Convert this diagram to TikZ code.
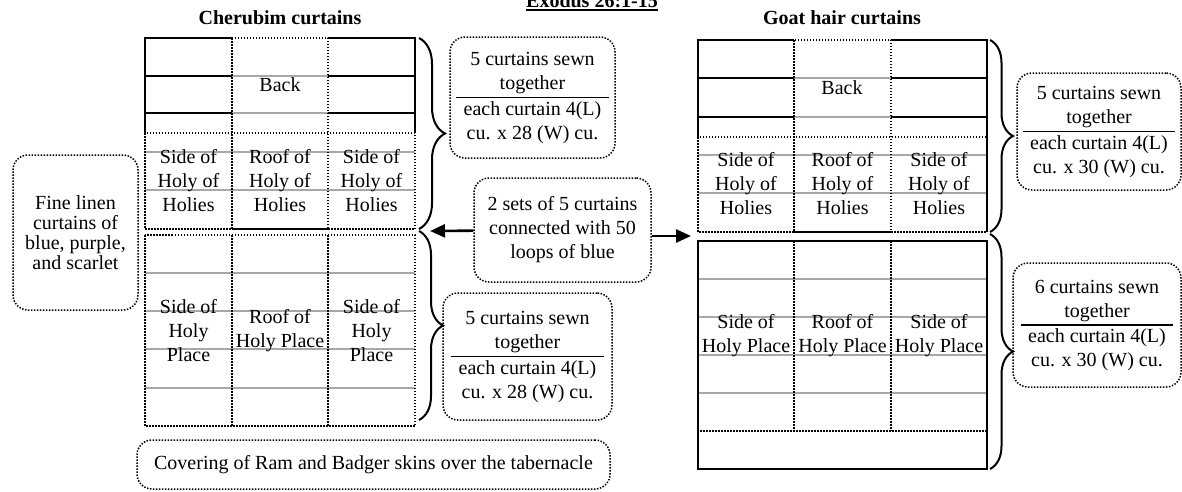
\documentclass[tikz,border=0pt]{standalone}
\usepackage{fontspec}
\setmainfont{Liberation Serif}
\usepackage{tikz}
\usetikzlibrary{arrows.meta, positioning, decorations.pathreplacing}
\definecolor{seamgray}{HTML}{A8A8A8}
\setlength{\arrayrulewidth}{1.5pt}
\setlength{\tabcolsep}{7.5pt}

\begin{document}
\begin{tikzpicture}[
        x=1pt, y=-1pt,
        every node/.style={font=\fontsize{20}{24}\selectfont, inner sep=0pt},
        note/.style={rectangle, draw=black, line width=1.5pt, dash pattern=on 1.5pt off 1.5pt, rounded corners=15pt, align=center},
        cell/.style={align=center},
        heading/.style={font=\fontsize{20}{24}\selectfont\bfseries, anchor=base},
        seam/.style={seamgray, line width=2pt},
        hem/.style={black, line width=2pt},
        dots/.style={black, line width=1.5pt, dash pattern=on 1.5pt off 1.5pt},
        curly/.style={decorate, decoration={brace, amplitude=#1}, line width=2pt},
        arrow/.style={-{Triangle[length=15pt, width=13pt]}, line width=2.6pt}
    ]
    \useasboundingbox (0,0) rectangle (1182,491);

    \node[heading] (exodus) at (592,7) {Exodus 26:1-15};
    \draw[line width=1.5pt] ([yshift=-3pt]exodus.base west) -- ([yshift=-3pt]exodus.base east);
    \node[heading] (cherubim) at (280,24) {Cherubim curtains};
    \node[heading] (goathair) at (842,24) {Goat hair curtains};

    \draw[seam] (232,76) -- (328,76) (232,113) -- (328,113)
        (145,152) -- (415,152) (145,190) -- (415,190)
        (145,273) -- (415,273) (145,311) -- (415,311) (145,349) -- (415,349) (145,388) -- (415,388);
    \draw[hem] (232,38) -- (145,38) -- (145,133) (328,38) -- (415,38) -- (415,133)
        (145,76) -- (232,76) (328,76) -- (415,76) (145,113) -- (232,113) (328,113) -- (415,113);
    \draw[dots] (232,38) rectangle (328,229) (145,133) rectangle (415,229)
        (145,235) rectangle (415,426) (232,235) -- (232,426) (328,235) -- (328,426);

    \node[cell] (cback) at (280,85) {Back};
    \node[cell] (chohl) at (188.5,181) {Side of\\Holy of\\Holies};
    \node[cell] (chohm) at (280,181) {Roof of\\Holy of\\Holies};
    \node[cell] (chohr) at (371.5,181) {Side of\\Holy of\\Holies};
    \node[cell] (chpl) at (188.5,331) {Side of\\Holy\\Place};
    \node[cell] (chpm) at (280,331) {Roof of\\Holy Place};
    \node[cell] (chpr) at (371.5,331) {Side of\\Holy\\Place};

    \draw[seam] (794,78) -- (891,78) (794,117) -- (891,117)
        (698,155) -- (987,155) (698,193) -- (987,193)
        (698,279) -- (987,279) (698,317) -- (987,317) (698,355) -- (987,355) (698,393) -- (987,393);
    \draw[hem] (794,40) -- (698,40) -- (698,137) (891,40) -- (987,40) -- (987,232)
        (698,78) -- (794,78) (891,78) -- (987,78) (698,117) -- (794,117) (891,117) -- (987,117)
        (698,241) rectangle (987,469);
    \draw[dots] (794,40) rectangle (891,232) (698,137) rectangle (987,232)
        (698,241) rectangle (987,431) (794,241) -- (794,431) (891,241) -- (891,431);

    \node[cell] (gback) at (842,88) {Back};
    \node[cell] (ghohl) at (746,184) {Side of\\Holy of\\Holies};
    \node[cell] (ghohm) at (842.5,184) {Roof of\\Holy of\\Holies};
    \node[cell] (ghohr) at (939,184) {Side of\\Holy of\\Holies};
    \node[cell] (ghpl) at (746,336) {Side of\\Holy Place};
    \node[cell] (ghpm) at (842.5,336) {Roof of\\Holy Place};
    \node[cell] (ghpr) at (939,336) {Side of\\Holy Place};

    \draw[curly=26pt] (419,38) -- (419,229);
    \draw[curly=24pt] (419,231) -- (419,420);
    \draw[curly=23pt] (990,40) -- (990,232);
    \draw[curly=23pt] (990,234) -- (990,469);

    \node[note, minimum width=125pt, minimum height=155pt, font=\fontsize{20}{20}\selectfont] (linen) at (75.5,232.5) {Fine linen\\curtains of\\blue, purple,\\and scarlet};
    \node[note, minimum width=165pt, minimum height=121pt] (csewtop) at (532.5,97.5) {\begin{tabular}{c}5 curtains sewn\\together\\\hline each curtain 4(L)\\cu. x 28 (W) cu.\end{tabular}};
    \node[note, minimum width=169pt, minimum height=127pt] (csewbot) at (527.5,356.5) {\begin{tabular}{c}5 curtains sewn\\together\\\hline each curtain 4(L)\\cu. x 28 (W) cu.\end{tabular}};
    \node[note, minimum width=177pt, minimum height=104pt] (loops) at (562.5,230) {2 sets of 5 curtains\\connected with 50\\loops of blue};
    \node[note, minimum width=164pt, minimum height=117pt] (gsewtop) at (1099,131.5) {\begin{tabular}{c}5 curtains sewn\\together\\\hline each curtain 4(L)\\cu. x 30 (W) cu.\end{tabular}};
    \node[note, minimum width=168pt, minimum height=124pt] (gsewbot) at (1097,325) {\begin{tabular}{c}6 curtains sewn\\together\\\hline each curtain 4(L)\\cu. x 30 (W) cu.\end{tabular}};
    \node[note, minimum width=473pt, minimum height=49pt] (skins) at (373.5,464.5) {Covering of Ram and Badger skins over the tabernacle};

    \coordinate (cjoin) at (430,231);
    \coordinate (gjoin) at (691,236);
    \draw[arrow] (loops) -- (cjoin);
    \draw[arrow] (loops.east |- gjoin) -- (gjoin);

\end{tikzpicture}
\end{document}
